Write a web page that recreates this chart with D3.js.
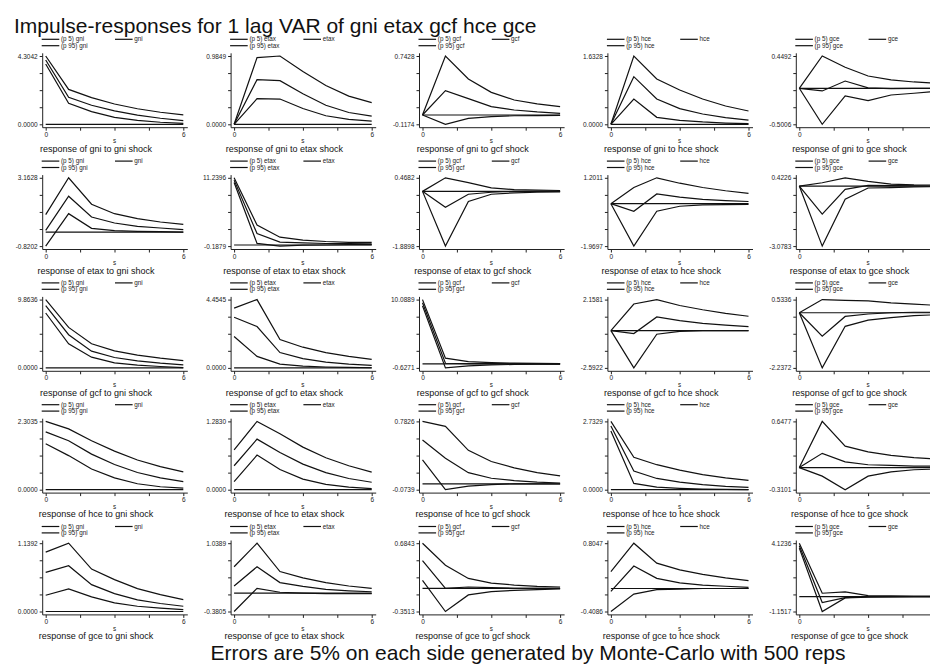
<!DOCTYPE html>
<html>
<head>
<meta charset="utf-8">
<script src="https://cdn.jsdelivr.net/npm/d3@7"></script>
<style>
  body { margin: 0; background: #fff; }
  svg { display: block; font-family: "Liberation Sans", Arial, sans-serif; }
</style>
</head>
<body>
<div id="chart"></div>
<script>
// variables of the VAR, row = response, column = shock
const variables = ["gni", "etax", "gcf", "hce", "gce"];
const steps = [0, 1, 2, 3, 4, 5, 6];
const xTicks = [0, 1.5, 3, 4.5, 6];

// y axis end labels per panel (row by row)
const yTopLabels = [
  ["4.3042", "0.9849", "0.7428", "1.6328", "0.4492"],
  ["3.1628", "11.2396", "0.4682", "1.2011", "0.4226"],
  ["9.8636", "4.4545", "10.0889", "2.1581", "0.5336"],
  ["2.3035", "1.2830", "0.7826", "2.7329", "0.6477"],
  ["1.1392", "1.0389", "0.6843", "0.8047", "4.1236"]
];
const yBottomLabels = [
  ["0.0000", "0.0000", "-0.1174", "0.0000", "-0.5006"],
  ["-0.8202", "-0.1879", "-1.8898", "-1.9697", "-3.0783"],
  ["0.0000", "0.0000", "-0.6271", "-2.5922", "-2.2372"],
  ["0.0000", "0.0000", "-0.0739", "0.0000", "-0.3101"],
  ["0.0000", "-0.3805", "-0.3513", "-0.4086", "-1.1517"]
];

// lower band (p 5)
const p5 = [
  [[3.80, 1.32, 0.80, 0.44, 0.25, 0.13, 0.06],
   [0, 0.369, 0.364, 0.227, 0.123, 0.071, 0.047],
   [0, -0.1174, -0.042, -0.020, -0.010, -0.008, -0.004],
   [0, 0.605, 0.167, 0.095, 0.056, 0.030, 0.016],
   [0, -0.5006, -0.107, -0.172, -0.093, -0.069, -0.040]],
  [[-0.8202, 1.07, 0.215, 0.077, 0.040, 0.020, 0.0],
   [10.46, 0.26, -0.1879, -0.02, 0.0, 0.05, 0.05],
   [0, -1.8898, -0.35, -0.10, -0.05, -0.03, -0.02],
   [0, -1.9697, -0.35, -0.12, -0.06, -0.04, -0.03],
   [0, -3.0783, -0.676, -0.10, -0.08, -0.05, -0.03]],
  [[7.93, 3.48, 1.55, 0.73, 0.39, 0.20, 0.05],
   [2.05, 0.75, 0.25, 0.12, 0.06, 0.03, 0.01],
   [9.10, -0.6271, -0.30, -0.15, -0.08, -0.05, -0.03],
   [0, -2.5922, -0.25, -0.05, 0.0, 0.0, 0.0],
   [0, -2.2372, -0.55, -0.30, -0.20, -0.12, -0.08]],
  [[1.55, 1.15, 0.70, 0.40, 0.20, 0.10, 0.05],
   [0.15, 0.65, 0.38, 0.20, 0.10, 0.05, 0.02],
   [0.30, -0.0739, -0.03, -0.01, 0.0, 0.0, 0.0],
   [2.35, 0.25, 0.10, 0.05, 0.02, 0.01, 0.0],
   [0, -0.12, -0.3101, -0.12, -0.06, -0.03, -0.02]],
  [[0.271, 0.376, 0.243, 0.144, 0.088, 0.055, 0.030],
   [-0.3805, 0.10, 0.02, 0.0, -0.01, -0.01, -0.01],
   [0.12, -0.3513, -0.10, -0.05, -0.03, -0.02, -0.01],
   [-0.4086, -0.10, -0.02, -0.01, 0.0, 0.0, 0.0],
   [3.74, -1.1517, -0.10, -0.04, -0.02, -0.01, 0.0]]
];

// point estimate
const irf = [
  [[4.05, 1.70, 1.20, 0.85, 0.58, 0.38, 0.23],
   [0, 0.644, 0.630, 0.44, 0.275, 0.17, 0.118],
   [0, 0.307, 0.206, 0.105, 0.063, 0.038, 0.02],
   [0, 1.139, 0.605, 0.374, 0.247, 0.16, 0.10],
   [0, -0.037, 0.101, 0.005, -0.005, 0.0, 0.0]],
  [[0.096, 2.088, 0.877, 0.527, 0.33, 0.235, 0.136],
   [10.85, 1.91, 0.47, 0.36, 0.25, 0.22, 0.20],
   [0, -0.55, -0.10, -0.03, 0.0, 0.0, 0.0],
   [0, -0.35, 0.45, 0.30, 0.20, 0.14, 0.10],
   [0, -1.437, -0.17, 0.03, 0.02, 0.01, 0.0]],
  [[8.99, 4.79, 2.42, 1.50, 1.02, 0.68, 0.43],
   [3.30, 2.70, 1.00, 0.60, 0.38, 0.25, 0.16],
   [9.60, 0.10, 0.05, 0.03, 0.02, 0.01, 0.01],
   [0, -0.20, 0.95, 0.70, 0.50, 0.38, 0.28],
   [0, -0.95, -0.15, -0.05, 0.0, 0.02, 0.02]],
  [[1.95, 1.65, 1.20, 0.85, 0.58, 0.40, 0.27],
   [0.45, 0.95, 0.70, 0.48, 0.32, 0.21, 0.14],
   [0.55, 0.32, 0.14, 0.07, 0.04, 0.02, 0.01],
   [2.55, 0.75, 0.45, 0.30, 0.20, 0.13, 0.09],
   [0, 0.20, 0.08, 0.04, 0.03, 0.02, 0.02]],
  [[0.653, 0.763, 0.448, 0.299, 0.194, 0.133, 0.088],
   [0.15, 0.55, 0.22, 0.14, 0.08, 0.05, 0.03],
   [0.42, 0.0, 0.02, 0.01, 0.0, 0.0, 0.0],
   [-0.05, 0.40, 0.18, 0.10, 0.06, 0.04, 0.02],
   [3.92, -0.46, -0.076, 0.0, 0.0, 0.0, 0.0]]
];

// upper band (p 95)
const p95 = [
  [[4.3042, 2.20, 1.68, 1.28, 0.98, 0.76, 0.59],
   [0, 0.961, 0.9849, 0.762, 0.559, 0.407, 0.312],
   [0, 0.7428, 0.453, 0.285, 0.189, 0.139, 0.105],
   [0, 1.6328, 1.083, 0.82, 0.605, 0.438, 0.318],
   [0, 0.4492, 0.292, 0.171, 0.116, 0.088, 0.07]],
  [[1.016, 3.1628, 1.62, 1.07, 0.78, 0.585, 0.45],
   [11.2396, 3.34, 1.30, 0.81, 0.58, 0.45, 0.42],
   [0, 0.4682, 0.30, 0.12, 0.06, 0.04, 0.03],
   [0, 0.75, 1.2011, 0.95, 0.75, 0.60, 0.48],
   [0, 0.17, 0.4226, 0.237, 0.10, 0.06, 0.05]],
  [[9.8636, 5.85, 3.48, 2.47, 1.84, 1.40, 1.06],
   [3.90, 4.4545, 1.85, 1.35, 1.00, 0.75, 0.55],
   [10.0889, 0.90, 0.35, 0.20, 0.12, 0.08, 0.05],
   [0, 1.85, 2.1581, 1.75, 1.45, 1.20, 1.00],
   [0, 0.5336, 0.50, 0.48, 0.40, 0.35, 0.30]],
  [[2.3035, 2.05, 1.65, 1.30, 1.00, 0.78, 0.60],
   [0.75, 1.2830, 1.05, 0.80, 0.60, 0.45, 0.33],
   [0.7826, 0.72, 0.42, 0.28, 0.20, 0.14, 0.10],
   [2.7329, 1.30, 1.00, 0.78, 0.60, 0.47, 0.37],
   [0, 0.6477, 0.30, 0.22, 0.17, 0.14, 0.12]],
  [[0.99, 1.1392, 0.708, 0.531, 0.382, 0.282, 0.199],
   [0.55, 1.0389, 0.45, 0.32, 0.22, 0.15, 0.10],
   [0.6843, 0.35, 0.15, 0.08, 0.05, 0.03, 0.02],
   [0.30, 0.8047, 0.45, 0.33, 0.25, 0.19, 0.14],
   [4.1236, 0.258, 0.358, 0.07, 0.05, 0.04, 0.03]]
];

const width = 930, height = 665;
const colStep = 188.4, rowStep = 121.8;
const plotLeft = 45.7, plotTop = 56;
const plotW = 137.6, plotH = 68.3;

const svg = d3.select("#chart").append("svg")
  .attr("width", width)
  .attr("height", height);

svg.append("text")
  .attr("x", 14)
  .attr("y", 33)
  .style("font-size", "21px")
  .attr("fill", "#111")
  .text("Impulse-responses for 1 lag VAR of " + variables.join(" "));

svg.append("text")
  .attr("x", 528)
  .attr("y", 660)
  .attr("text-anchor", "middle")
  .style("font-size", "21px")
  .attr("fill", "#111")
  .text("Errors are 5% on each side generated by Monte-Carlo with 500 reps");

const drawPanel = (row, col) => {
  const x0 = plotLeft + col * colStep;
  const top = plotTop + row * rowStep;
  const bottom = top + plotH;
  const shock = variables[col];
  const lo = +yBottomLabels[row][col], hi = +yTopLabels[row][col];

  const x = d3.scaleLinear().domain([0, 6]).range([x0, x0 + plotW]);
  const y = d3.scaleLinear().domain([lo, hi]).range([bottom, top]);

  const g = svg.append("g");

  // legend
  const legend = [
    { label: "(p 5) " + shock, dx: 0, dy: -16.7 },
    { label: shock, dx: 73.3, dy: -16.7 },
    { label: "(p 95) " + shock, dx: 0, dy: -10.3 }
  ];
  legend.forEach(d => {
    g.append("line")
      .attr("x1", x0 - 4 + d.dx).attr("x2", x0 + 13.6 + d.dx)
      .attr("y1", top + d.dy).attr("y2", top + d.dy)
      .attr("stroke", "#111").attr("stroke-width", 1.2);
    g.append("text")
      .attr("x", x0 + 15.3 + d.dx)
      .attr("y", top + d.dy + 2)
      .style("font-size", "6.3px")
      .attr("fill", "#222")
      .text(d.label);
  });

  // y axis
  const yVals = d3.range(5).map(i => lo + (hi - lo) * i / 4);
  const yAxis = d3.axisLeft(y)
    .tickValues(yVals)
    .tickSize(3)
    .tickPadding(2)
    .tickFormat((d, i) => i === 0 ? yBottomLabels[row][col] : i === 4 ? yTopLabels[row][col] : "");
  const ya = g.append("g")
    .attr("transform", `translate(${x0 - 3},0)`)
    .call(yAxis);
  ya.select(".domain").remove();
  ya.selectAll("text").style("font-size", "6.5px").style("font-family", "Liberation Sans, Arial, sans-serif").attr("fill", "#222");
  ya.selectAll("line").attr("stroke", "#222");
  g.append("line")
    .attr("x1", x0 - 3).attr("x2", x0 - 3)
    .attr("y1", top - 2.7).attr("y2", bottom + 3.4)
    .attr("stroke", "#222").attr("stroke-width", 1);

  // x axis; the right end label of the last column falls off the page
  const lastVisible = x(6) + 3 < width;
  const xAxis = d3.axisBottom(x)
    .tickValues(xTicks)
    .tickSize(3)
    .tickPadding(1.5)
    .tickFormat(d => d === 0 || (d === 6 && lastVisible) ? d : "");
  const xa = g.append("g")
    .attr("transform", `translate(0,${bottom + 3.4})`)
    .call(xAxis);
  xa.select(".domain").remove();
  xa.selectAll("text").style("font-size", "6.5px").style("font-family", "Liberation Sans, Arial, sans-serif").attr("fill", "#222");
  xa.selectAll("line").attr("stroke", "#222");
  g.append("line")
    .attr("x1", x0 - 3).attr("x2", x0 + plotW + 4.5)
    .attr("y1", bottom + 3.4).attr("y2", bottom + 3.4)
    .attr("stroke", "#222").attr("stroke-width", 1);

  g.append("text")
    .attr("x", x0 + plotW / 2)
    .attr("y", bottom + 19)
    .attr("text-anchor", "middle")
    .style("font-size", "6.3px")
    .attr("fill", "#222")
    .text("s");

  g.append("text")
    .attr("x", 96 + col * colStep)
    .attr("y", bottom + 27.7)
    .attr("text-anchor", "middle")
    .style("font-size", "9px")
    .attr("fill", "#111")
    .text("response of " + variables[row] + " to " + shock + " shock");

  // zero line
  g.append("line")
    .attr("x1", x(0)).attr("x2", x(6))
    .attr("y1", y(0)).attr("y2", y(0))
    .attr("stroke", "#111").attr("stroke-width", 1.2);

  const line = d3.line()
    .x((d, i) => x(steps[i]))
    .y(d => y(d));

  [p5[row][col], irf[row][col], p95[row][col]].forEach(series => {
    g.append("path")
      .attr("d", line(series))
      .attr("fill", "none")
      .attr("stroke", "#111")
      .attr("stroke-width", 1.2);
  });
};

for (let r = 0; r < 5; r++) {
  for (let c = 0; c < 5; c++) {
    drawPanel(r, c);
  }
}
</script>
</body>
</html>
